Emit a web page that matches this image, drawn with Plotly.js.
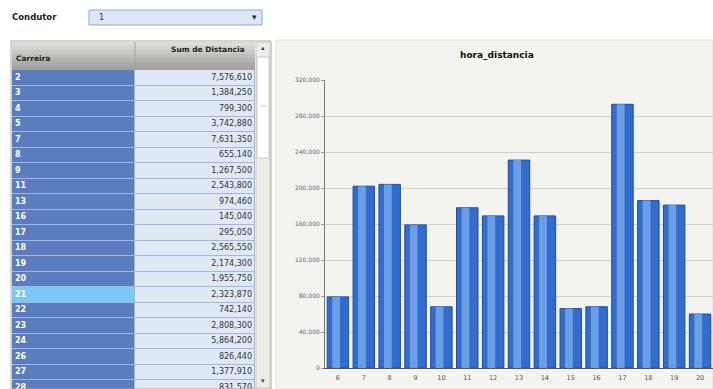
<!DOCTYPE html>
<html>
<head>
<meta charset="utf-8">
<script src="https://cdn.plot.ly/plotly-3.0.1.min.js"></script>
<style>html,body{margin:0;padding:0;background:#fff;}#chart{width:713px;height:389px;}</style>
</head>
<body>
<div id="chart"></div>
<script>
// ---- data ----
const condutorValue = '1';
const tableHeaders = ['Carreira', 'Sum de Distancia'];
const carreira = ['2','3','4','5','7','8','9','11','13','16','17','18','19','20','21','22','23','24','26','27','28'];
const sumDistancia = [7576610,1384250,799300,3742880,7631350,655140,1267500,2543800,974460,145040,295050,2565550,2174300,1955750,2323870,742140,2808300,5864200,826440,1377910,831570];
const selectedCarreira = '21';
const horas = ['6','7','8','9','10','11','12','13','14','15','16','17','18','19','20'];
const distHora = [79000,202000,204000,159000,68000,178000,169000,231000,169000,66000,68000,293000,186000,181000,60000];
const yTicks = [0,40000,80000,120000,160000,200000,240000,280000,320000];

// ---- helpers ----
const W = 713, H = 389;
const px = x => x / W;
const py = y => 1 - y / H;

// table geometry (styles, not data)
const COL1 = 123, COL2 = 120;
const ROW_H = 15.5, BODY_TOP = 70;
const visibleRows = (H - BODY_TOP) / ROW_H;
const rowIdx = carreira.map((_, i) => i);

// heatmap cell fills: 0 = label cell, 1 = selected label cell, 2 = value cell
const zCells = carreira.map(c => [c === selectedCarreira ? 1 : 0, 2]);

const cellFill = {
  type: 'heatmap',
  x: [0, COL1, COL1 + COL2],
  y: rowIdx,
  z: zCells,
  zmin: 0, zmax: 2,
  colorscale: [[0, '#5a7dc0'], [0.25, '#5a7dc0'], [0.25, '#7cc6f6'], [0.75, '#7cc6f6'], [0.75, '#dfe8f5'], [1, '#dfe8f5']],
  showscale: false,
  ygap: 1, xgap: 1,
  xaxis: 'x2', yaxis: 'y2',
  hoverinfo: 'skip'
};
const labelText = {
  type: 'scatter', mode: 'text',
  x: carreira.map(() => 3), y: rowIdx,
  text: carreira.map(c => '<b>' + c + '</b>'),
  textposition: 'middle right',
  textfont: {family: 'DejaVu Sans', size: 8, color: '#ffffff'},
  xaxis: 'x2', yaxis: 'y2', hoverinfo: 'skip', showlegend: false
};
const valueText = {
  type: 'scatter', mode: 'text',
  x: carreira.map(() => COL1 + COL2 - 3), y: rowIdx,
  customdata: sumDistancia,
  texttemplate: '%{customdata:,}',
  textposition: 'middle left',
  textfont: {family: 'DejaVu Sans', size: 8, color: '#333333'},
  xaxis: 'x2', yaxis: 'y2', hoverinfo: 'skip', showlegend: false
};

const barsBase = {
  type: 'bar',
  x: horas, y: distHora,
  xaxis: 'x', yaxis: 'y',
  width: 0.83, offset: -0.415,
  marker: {color: '#336ccc', line: {color: '#1f4e9c', width: 1}},
  hoverinfo: 'x+y', showlegend: false
};
const barsShine = {
  type: 'bar',
  x: horas, y: distHora,
  xaxis: 'x', yaxis: 'y',
  width: 0.3, offset: -0.22,
  marker: {color: 'rgba(125,176,242,0.75)', line: {width: 0}},
  hoverinfo: 'skip', showlegend: false
};

const headerStripes = [];
const hdrTop = 42, hdrBot = 70;
const stripeCols = ['#dcdcd8', '#d2d2ce', '#c8c8c4', '#bebeba', '#b4b4b0', '#aaaaa6', '#a2a29e'];
stripeCols.forEach((c, i) => {
  const h = (hdrBot - hdrTop) / stripeCols.length;
  headerStripes.push({type: 'rect', xref: 'paper', yref: 'paper',
    x0: px(12), x1: px(12 + COL1 + COL2), y0: py(hdrTop + h * (i + 1)), y1: py(hdrTop + h * i),
    fillcolor: c, line: {width: 0}});
});

const layout = {
  width: W, height: H,
  margin: {l: 0, r: 0, t: 0, b: 0},
  paper_bgcolor: '#ffffff',
  plot_bgcolor: 'rgba(0,0,0,0)',
  barmode: 'overlay',
  showlegend: false,
  font: {family: 'DejaVu Sans', color: '#444'},
  xaxis: {
    domain: [px(325), 1],
    type: 'category',
    showgrid: false,
    showline: true, linecolor: '#555', linewidth: 1,
    ticks: '', ticklabelstandoff: 3,
    tickfont: {size: 6.5, color: '#555'},
    fixedrange: true
  },
  yaxis: {
    domain: [py(368), py(80)],
    range: [0, 320000],
    tickvals: yTicks,
    tickformat: ',',
    showgrid: true, gridcolor: '#cfcfcb', gridwidth: 1,
    zeroline: false,
    showline: true, linecolor: '#777', linewidth: 1,
    ticks: 'outside', ticklen: 3, tickcolor: '#999',
    tickfont: {size: 6, color: '#666'},
    fixedrange: true
  },
  xaxis2: {
    domain: [px(12), px(12 + COL1 + COL2)],
    range: [0, COL1 + COL2],
    visible: false, fixedrange: true, anchor: 'y2'
  },
  yaxis2: {
    domain: [0, py(BODY_TOP)],
    range: [visibleRows - 0.5, -0.5],
    visible: false, fixedrange: true, anchor: 'x2'
  },
  shapes: [
    {type: 'rect', xref: 'paper', yref: 'paper', x0: px(276), x1: px(713), y0: 0, y1: py(40),
     fillcolor: '#f3f3ef', line: {color: '#e2e2de', width: 1}, layer: 'below'},
    {type: 'rect', xref: 'paper', yref: 'paper', x0: px(12), x1: px(12 + COL1 + COL2), y0: 0, y1: py(BODY_TOP),
     fillcolor: '#a3b6dc', line: {width: 0}, layer: 'below'},
    {type: 'rect', xref: 'paper', yref: 'paper', x0: px(89), x1: px(262), y0: py(25), y1: py(10),
     fillcolor: '#dde5f6', line: {color: '#97a6c9', width: 1}},
    ...headerStripes,
    {type: 'line', xref: 'paper', yref: 'paper', x0: px(12 + COL1), x1: px(12 + COL1), y0: py(hdrBot), y1: py(hdrTop),
     line: {color: '#a0a09c', width: 1}},
    {type: 'rect', xref: 'paper', yref: 'paper', x0: px(11), x1: px(271), y0: 0, y1: py(41),
     fillcolor: 'rgba(0,0,0,0)', line: {color: '#a8a8a4', width: 1}},
    {type: 'rect', xref: 'paper', yref: 'paper', x0: px(256), x1: px(270), y0: py(388), y1: py(42),
     fillcolor: '#ecece8', line: {color: '#c8c8c4', width: 1}},
    {type: 'rect', xref: 'paper', yref: 'paper', x0: px(257), x1: px(269), y0: py(158), y1: py(57),
     fillcolor: '#ffffff', line: {color: '#c8c8c4', width: 1}},
    {type: 'line', xref: 'paper', yref: 'paper', x0: px(260), x1: px(266), y0: py(106), y1: py(106),
     line: {color: '#c8c8c4', width: 1}}
  ],
  annotations: [
    {xref: 'paper', yref: 'paper', x: px(10), y: py(17), xanchor: 'left', yanchor: 'middle',
     text: '<b>Condutor</b>', showarrow: false, font: {family: 'DejaVu Sans', size: 8.5, color: '#222'}},
    {xref: 'paper', yref: 'paper', x: px(97), y: py(17.5), xanchor: 'left', yanchor: 'middle',
     text: condutorValue, showarrow: false, font: {family: 'DejaVu Sans', size: 8, color: '#333'}},
    {xref: 'paper', yref: 'paper', x: px(254), y: py(17), xanchor: 'center', yanchor: 'middle',
     text: '▾', showarrow: false, font: {family: 'DejaVu Sans', size: 9, color: '#333'}},
    {xref: 'paper', yref: 'paper', x: px(14), y: py(58), xanchor: 'left', yanchor: 'middle',
     text: '<b>' + tableHeaders[0] + '</b>', showarrow: false, font: {family: 'DejaVu Sans', size: 7.5, color: '#222'}},
    {xref: 'paper', yref: 'paper', x: px(12 + COL1 + COL2 - 8), y: py(50), xanchor: 'right', yanchor: 'middle',
     text: '<b>' + tableHeaders[1] + '</b>', showarrow: false, font: {family: 'DejaVu Sans', size: 7.5, color: '#222'}},
    {xref: 'paper', yref: 'paper', x: px(263), y: py(48), xanchor: 'center', yanchor: 'middle',
     text: '▴', showarrow: false, font: {family: 'DejaVu Sans', size: 7, color: '#444'}},
    {xref: 'paper', yref: 'paper', x: px(263), y: py(381), xanchor: 'center', yanchor: 'middle',
     text: '▾', showarrow: false, font: {family: 'DejaVu Sans', size: 7, color: '#444'}},
    {xref: 'paper', yref: 'paper', x: px(497), y: py(55), xanchor: 'center', yanchor: 'middle',
     text: '<b>hora_distancia</b>', showarrow: false, font: {family: 'DejaVu Sans', size: 9, color: '#111'}}
  ]
};

Plotly.newPlot('chart', [cellFill, labelText, valueText, barsBase, barsShine], layout, {displayModeBar: false});
</script>
</body>
</html>
